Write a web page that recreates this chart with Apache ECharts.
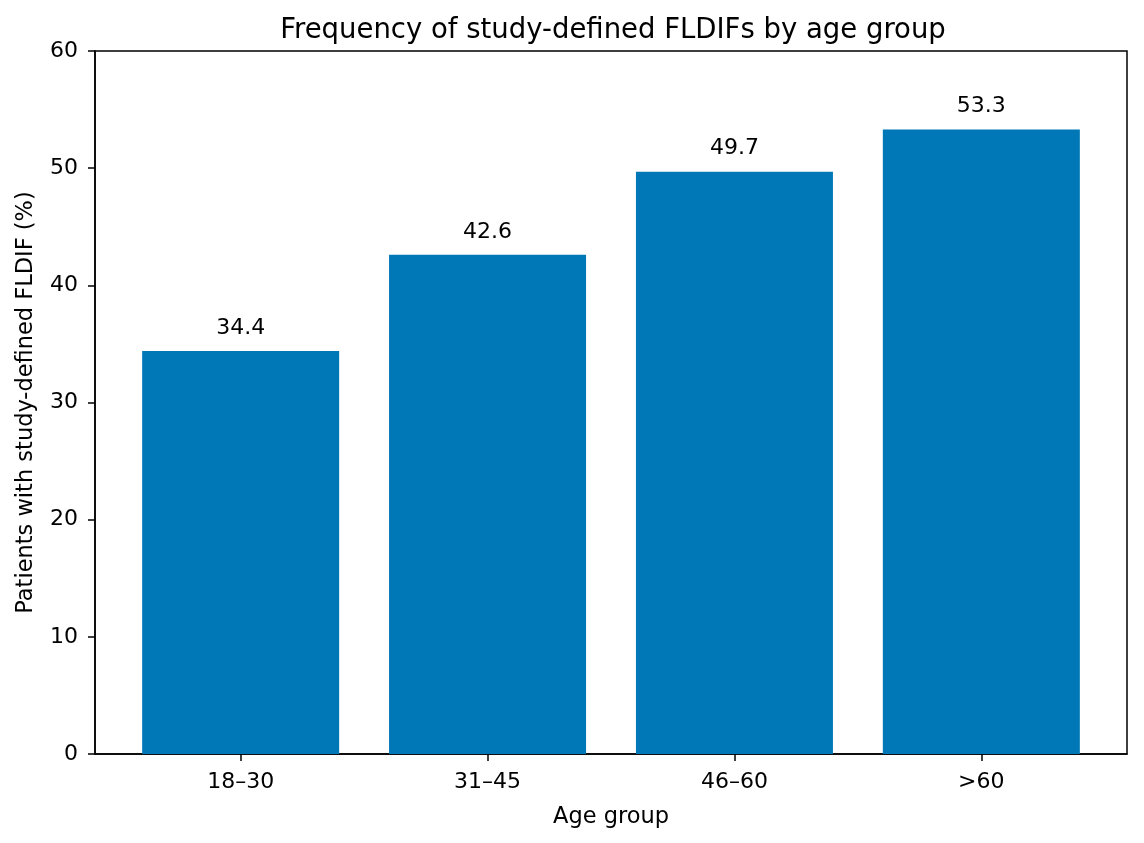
<!DOCTYPE html>
<html>
<head>
<meta charset="utf-8">
<script src="https://cdn.jsdelivr.net/npm/echarts@6/dist/echarts.min.js"></script>
<style>
html,body{margin:0;padding:0;background:#fff;}
#chart{width:1144px;height:843px;}
</style>
</head>
<body>
<div id="chart"></div>
<script>
const categories = ['18–30', '31–45', '46–60', '>60'];
const values = [34.4, 42.6, 49.7, 53.3];
const yTicks = [0, 10, 20, 30, 40, 50, 60];

const FONT = 'DejaVu Sans';
const chart = echarts.init(document.getElementById('chart'), null, {renderer: 'canvas'});
const positions = categories.map((c, i) => i);

chart.setOption({
  animation: false,
  backgroundColor: '#ffffff',
  title: {
    text: 'Frequency of study-defined FLDIFs by age group',
    left: 608,
    textAlign: 'center',
    top: 12,
    textStyle: {fontFamily: FONT, fontSize: 27.5, fontWeight: 'normal', color: '#000'}
  },
  grid: {
    left: 95, right: 17, top: 51, bottom: 89,
    containLabel: false,
    outerBoundsMode: 'none',
    show: true,
    borderColor: '#000',
    borderWidth: 1.5,
    backgroundColor: 'transparent'
  },
  xAxis: {
    type: 'value',
    min: -0.59,
    max: 3.59,
    name: 'Age group',
    nameLocation: 'middle',
    nameGap: 52,
    nameTextStyle: {fontFamily: FONT, fontSize: 22.5, color: '#000'},
    splitLine: {show: false},
    axisLine: {show: true, onZero: false, lineStyle: {color: '#000', width: 1.5}},
    axisTick: {show: true, length: 7, lineStyle: {color: '#000', width: 1.5}, customValues: positions},
    axisLabel: {
      customValues: positions,
      margin: 17,
      fontFamily: FONT, fontSize: 22, color: '#000',
      formatter: v => categories[Math.round(v)]
    }
  },
  yAxis: {
    type: 'value',
    min: yTicks[0],
    max: yTicks[yTicks.length - 1],
    interval: 10,
    name: 'Patients with study-defined FLDIF (%)',
    nameLocation: 'middle',
    nameGap: 57,
    nameRotate: 90,
    nameTextStyle: {fontFamily: FONT, fontSize: 22.5, color: '#000'},
    splitLine: {show: false},
    axisLine: {show: true, onZero: false, lineStyle: {color: '#000', width: 1.5}},
    axisTick: {show: true, length: 7, lineStyle: {color: '#000', width: 1.5}},
    axisLabel: {margin: 17, fontFamily: FONT, fontSize: 22, color: '#000'}
  },
  series: [{
    type: 'bar',
    data: categories.map((c, i) => [positions[i], values[i]]),
    barWidth: 197,
    itemStyle: {color: '#0077b6'},
    label: {
      show: true,
      position: 'top',
      distance: 12,
      fontFamily: FONT, fontSize: 22, color: '#000',
      formatter: p => p.value[1].toFixed(1)
    }
  }]
});
</script>
</body>
</html>
